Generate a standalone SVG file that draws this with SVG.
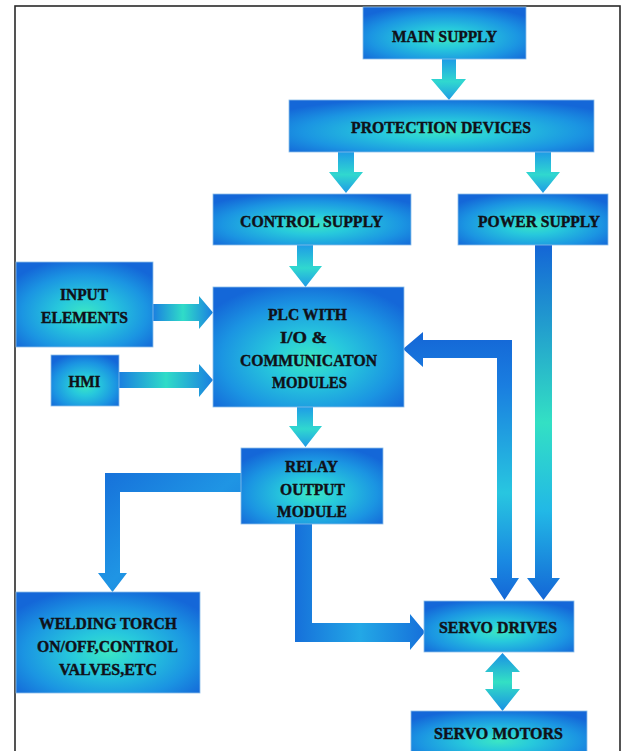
<svg xmlns="http://www.w3.org/2000/svg" width="623" height="751" viewBox="0 0 623 751">
<style>
.box{stroke:#8cbfe9;stroke-width:0.8;fill:url(#gBox)}
.t{font-family:"Liberation Serif","Times New Roman",serif;font-weight:bold;font-size:17.5px;fill:#101018;stroke:#101018;stroke-width:0.45;text-anchor:middle}
</style>
<defs>
<radialGradient id="gBox" cx="0.5" cy="0.6" r="0.65">
<stop offset="0" stop-color="#3be6c4"/>
<stop offset="0.3" stop-color="#27c9dc"/>
<stop offset="0.7" stop-color="#1b95e2"/>
<stop offset="1" stop-color="#1467d8"/>
</radialGradient>
<linearGradient id="gV" x1="0" y1="0" x2="0" y2="1">
<stop offset="0" stop-color="#1e9ce6"/>
<stop offset="0.55" stop-color="#30d8cf"/>
<stop offset="1" stop-color="#1f9ae6"/>
</linearGradient>
<linearGradient id="gH" x1="0" y1="0" x2="1" y2="0">
<stop offset="0" stop-color="#1a7fe0"/>
<stop offset="0.5" stop-color="#30dcc8"/>
<stop offset="1" stop-color="#1a7fe0"/>
</linearGradient>
<linearGradient id="gPow" x1="0" y1="0" x2="0" y2="1">
<stop offset="0" stop-color="#1466d6"/>
<stop offset="0.5" stop-color="#33e0c4"/>
<stop offset="0.75" stop-color="#22b8e6"/>
<stop offset="1" stop-color="#1466d6"/>
</linearGradient>
<linearGradient id="gFb" x1="0" y1="0" x2="0" y2="1">
<stop offset="0" stop-color="#1466d6"/>
<stop offset="0.2" stop-color="#1a7ee0"/>
<stop offset="0.6" stop-color="#28c6e0"/>
<stop offset="0.85" stop-color="#1a8ae2"/>
<stop offset="1" stop-color="#1466d6"/>
</linearGradient>
<linearGradient id="gL" x1="0" y1="0" x2="1" y2="1">
<stop offset="0" stop-color="#1670da"/>
<stop offset="0.5" stop-color="#1f95e4"/>
<stop offset="1" stop-color="#1670da"/>
</linearGradient>
<linearGradient id="gB" x1="0" y1="0" x2="1" y2="0">
<stop offset="0" stop-color="#1670da"/>
<stop offset="0.5" stop-color="#23a8e6"/>
<stop offset="1" stop-color="#1670da"/>
</linearGradient>
<linearGradient id="gS" x1="0" y1="0" x2="0" y2="1">
<stop offset="0" stop-color="#1a90e4"/>
<stop offset="0.5" stop-color="#33e0c4"/>
<stop offset="1" stop-color="#1a90e4"/>
</linearGradient>
</defs>
<rect x="0" y="0" width="623" height="751" fill="#ffffff"/>
<rect x="15" y="6" width="605" height="770" fill="none" stroke="#2a2a2a" stroke-width="1.6"/>

<g id="connectors">
<polygon points="442,59 456,59 456,79 466,79 449,100 431,79 442,79" fill="url(#gV)"/>
<polygon points="338,152 354,152 354,172 363,172 346,193 329,172 338,172" fill="url(#gV)"/>
<polygon points="535,152 551,152 551,172 560,172 543,193 526,172 535,172" fill="url(#gV)"/>
<polygon points="297,245 313,245 313,266 322,266 305.5,287 289,266 297,266" fill="url(#gV)"/>
<polygon points="297,407 313,407 313,426 322,426 305.5,447 289,426 297,426" fill="url(#gV)"/>
<polygon points="153,304 199,304 199,296 213,312.5 199,329 199,321 153,321" fill="url(#gH)"/>
<polygon points="119,372 199,372 199,364 213,380 199,397 199,388 119,388" fill="url(#gH)"/>
<polygon points="241,473 105,473 105,573 98,573 112.5,592 127,573 120,573 120,492 241,492" fill="url(#gL)"/>
<polygon points="295,524 312,524 312,623 410,623 410,614 425,632 410,650 410,642 295,642" fill="url(#gB)"/>
<polygon points="403,349 423,332 423,340 512,340 512,578 519,578 504.5,600 490,578 497,578 497,358 423,358 423,367" fill="url(#gFb)"/>
<polygon points="535,245 552,245 552,578 560,578 543.5,600 527,578 535,578" fill="url(#gPow)"/>
<polygon points="502.5,653 520,672 512,672 512,689 520,689 502.5,711 485,689 493,689 493,672 485,672" fill="url(#gS)"/>
</g>

<g id="main-supply">
<rect class="box" x="363" y="7" width="163" height="52"/>
<text class="t" x="444.5" y="42" textLength="105" lengthAdjust="spacingAndGlyphs">MAIN SUPPLY</text>
</g>
<g id="protection-devices">
<rect class="box" x="289" y="100" width="305" height="52"/>
<text class="t" x="441" y="133" textLength="180" lengthAdjust="spacingAndGlyphs">PROTECTION DEVICES</text>
</g>
<g id="control-supply">
<rect class="box" x="213" y="194" width="198" height="51"/>
<text class="t" x="311.5" y="227" textLength="143" lengthAdjust="spacingAndGlyphs">CONTROL SUPPLY</text>
</g>
<g id="power-supply">
<rect class="box" x="458" y="194" width="150" height="51"/>
<text class="t" x="539" y="227" textLength="122" lengthAdjust="spacingAndGlyphs">POWER SUPPLY</text>
</g>
<g id="input-elements">
<rect class="box" x="16" y="262" width="137" height="85"/>
<text class="t" x="84" y="300" textLength="48" lengthAdjust="spacingAndGlyphs">INPUT</text>
<text class="t" x="84.5" y="323" textLength="87" lengthAdjust="spacingAndGlyphs">ELEMENTS</text>
</g>
<g id="hmi">
<rect class="box" x="51" y="355" width="68" height="51"/>
<text class="t" x="84.5" y="387" textLength="32" lengthAdjust="spacingAndGlyphs">HMI</text>
</g>
<g id="plc">
<rect class="box" x="213" y="287" width="191" height="120"/>
<text class="t" x="307.5" y="320" textLength="79" lengthAdjust="spacingAndGlyphs">PLC WITH</text>
<text class="t" x="303.5" y="343" textLength="47" lengthAdjust="spacingAndGlyphs">I/O &amp;</text>
<text class="t" x="308.5" y="366" textLength="137" lengthAdjust="spacingAndGlyphs">COMMUNICATON</text>
<text class="t" x="309.5" y="388" textLength="75" lengthAdjust="spacingAndGlyphs">MODULES</text>
</g>
<g id="relay-output-module">
<rect class="box" x="241" y="448" width="142" height="76"/>
<text class="t" x="311.5" y="472" textLength="53" lengthAdjust="spacingAndGlyphs">RELAY</text>
<text class="t" x="312.5" y="495" textLength="65" lengthAdjust="spacingAndGlyphs">OUTPUT</text>
<text class="t" x="312" y="517" textLength="70" lengthAdjust="spacingAndGlyphs">MODULE</text>
</g>
<g id="welding-torch">
<rect class="box" x="16" y="592" width="184" height="101"/>
<text class="t" x="108" y="629" textLength="138" lengthAdjust="spacingAndGlyphs">WELDING TORCH</text>
<text class="t" x="107.5" y="652" textLength="141" lengthAdjust="spacingAndGlyphs">ON/OFF,CONTROL</text>
<text class="t" x="108" y="675" textLength="98" lengthAdjust="spacingAndGlyphs">VALVES,ETC</text>
</g>
<g id="servo-drives">
<rect class="box" x="424" y="601" width="150" height="51"/>
<text class="t" x="498" y="633" textLength="118" lengthAdjust="spacingAndGlyphs">SERVO DRIVES</text>
</g>
<g id="servo-motors">
<rect class="box" x="411" y="711" width="176" height="50"/>
<text class="t" x="498.5" y="739" textLength="129" lengthAdjust="spacingAndGlyphs">SERVO MOTORS</text>
</g>
</svg>
